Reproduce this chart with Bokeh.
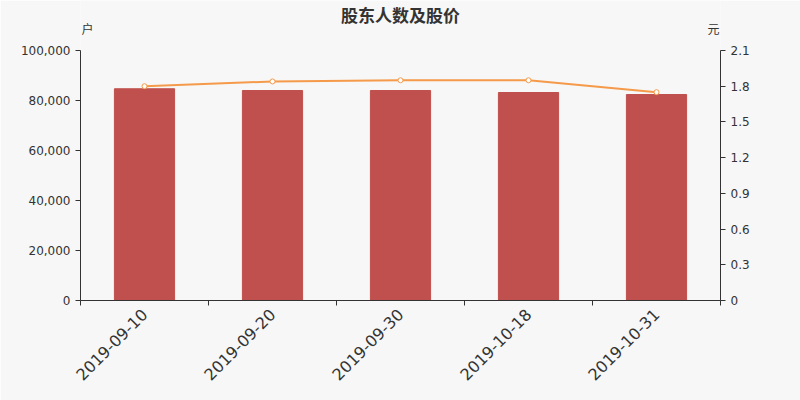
import math
from bokeh.plotting import figure
from bokeh.models import (LinearAxis, Range1d, FixedTicker, NumeralTickFormatter,
                          ColumnDataSource, Label)
from bokeh.embed import file_html
from bokeh.resources import INLINE

title_text = "股东人数及股价"
left_unit = "户"
right_unit = "元"
dates = ["2019-09-10", "2019-09-20", "2019-09-30", "2019-10-18", "2019-10-31"]
holders = [84700, 84000, 84000, 83200, 82400]
prices = [1.80, 1.84, 1.85, 1.85, 1.75]
left_ticks = [0, 20000, 40000, 60000, 80000, 100000]
right_ticks = [0, 0.3, 0.6, 0.9, 1.2, 1.5, 1.8, 2.1]
left_max = 100000
right_max = 2.1

BG = "#f7f7f7"
TXT = "#333333"
FONT = "DejaVu Sans"
CJK = "Noto Sans CJK SC"

# frame spans the full canvas height above the x axis (300px); axes occupy the lower 250px
EXT = 300 / 250
n = len(dates)

xs = [i + 0.5 for i in range(n)]
src = ColumnDataSource(dict(x=xs, holders=holders, prices=prices))

p = figure(width=800, height=400, output_backend="svg", toolbar_location=None,
           x_range=Range1d(0, n), y_range=Range1d(0, left_max * EXT),
           background_fill_color=BG, border_fill_color=BG, outline_line_color=None,
           min_border_left=80, min_border_right=80, min_border_top=0, min_border_bottom=100)

p.extra_y_ranges = {"price": Range1d(0, right_max * EXT)}
p.xgrid.visible = False
p.ygrid.visible = False

p.vbar(x="x", top="holders", width=0.47, source=src, color="#c0504d")
p.line(x="x", y="prices", source=src, y_range_name="price", line_color="#f59a4a", line_width=2)
p.scatter(x="x", y="prices", source=src, y_range_name="price", size=5,
          fill_color="white", line_color="#f59a4a", line_width=1)

# x axis
xa = p.xaxis[0]
xa.ticker = FixedTicker(ticks=xs, minor_ticks=list(range(n + 1)))
xa.major_label_overrides = {x: d for x, d in zip(xs, dates)}
xa.major_tick_line_color = None
xa.minor_tick_in = 0
xa.minor_tick_out = 5
xa.minor_tick_line_color = TXT
xa.axis_line_color = TXT
xa.major_label_orientation = math.pi / 4
xa.major_label_text_font = FONT
xa.major_label_text_font_size = "16px"
xa.major_label_text_color = TXT

# left axis
ya = p.yaxis[0]
ya.ticker = FixedTicker(ticks=left_ticks)
ya.formatter = NumeralTickFormatter(format="0,0")
ya.bounds = (0, left_max)

ra = LinearAxis(y_range_name="price", ticker=FixedTicker(ticks=right_ticks),
                bounds=(0, right_max))
ra.major_label_overrides = {0: "0"}
p.add_layout(ra, "right")

for ax in (ya, ra):
    ax.axis_line_color = TXT
    ax.major_tick_line_color = TXT
    ax.major_tick_in = 0
    ax.major_tick_out = 5
    ax.minor_tick_line_color = None
    ax.major_label_text_font = FONT
    ax.major_label_text_font_size = "12px"
    ax.major_label_text_color = TXT

# texts inside the frame (screen units from the frame's bottom-left corner)
p.add_layout(Label(x=320, y=286, x_units="screen", y_units="screen", text=title_text,
                   text_align="center", text_baseline="middle",
                   text_font=CJK, text_font_size="17px", text_font_style="bold",
                   text_color=TXT))
p.add_layout(Label(x=1, y=272, x_units="screen", y_units="screen", text=left_unit,
                   text_align="left", text_baseline="middle",
                   text_font=CJK, text_font_size="12px", text_color=TXT))
p.add_layout(Label(x=639, y=272, x_units="screen", y_units="screen", text=right_unit,
                   text_align="right", text_baseline="middle",
                   text_font=CJK, text_font_size="12px", text_color=TXT))

open("out.html", "w").write(file_html(p, INLINE))
